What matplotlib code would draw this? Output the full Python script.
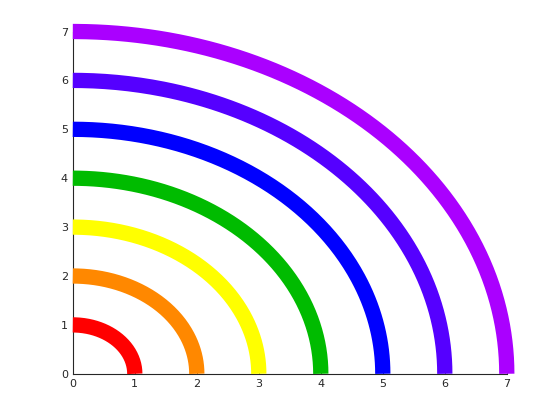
import numpy as np
import matplotlib
matplotlib.use("Agg")
import matplotlib.pyplot as plt

radii = [1, 2, 3, 4, 5, 6, 7]
colors = ["#FF0000", "#FF8800", "#FFFF00", "#00BB00", "#0000FF", "#5500FF", "#AA00FF"]
ticks = [0, 1, 2, 3, 4, 5, 6, 7]

fig = plt.figure(figsize=(5.6, 4.2), dpi=100)
ax = fig.add_axes([0.13, 0.11, 0.775, 0.815])
theta = np.linspace(0, np.pi / 2, 200)
for r, c in zip(radii, colors):
    ax.plot(r * np.cos(theta), r * np.sin(theta), color=c, lw=11,
            solid_capstyle="butt", clip_on=False, zorder=3)
ax.set_xlim(0, 7)
ax.set_ylim(0, 7)
ax.set_xticks(ticks)
ax.set_yticks(ticks)
for s in ["top", "right"]:
    ax.spines[s].set_visible(False)
for s in ["left", "bottom"]:
    ax.spines[s].set_color("#262626")
    ax.spines[s].set_linewidth(0.8)
ax.tick_params(direction="in", length=3, labelsize=8, colors="#262626", width=0.6)
fig.savefig("out.png", dpi=100)
